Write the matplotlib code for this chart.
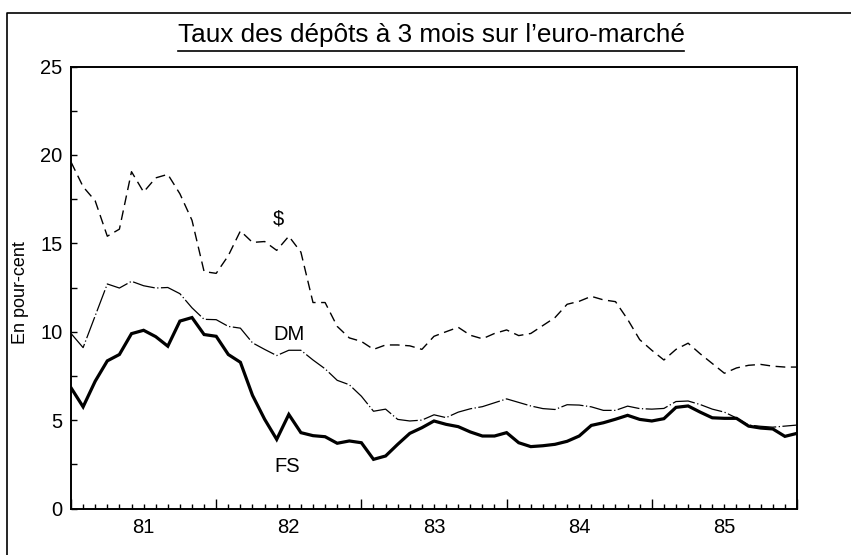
import matplotlib
matplotlib.use("Agg")
import matplotlib.pyplot as plt
from matplotlib.lines import Line2D

plt.rcParams['font.family'] = ['Liberation Sans', 'DejaVu Sans']

# mois depuis janvier 1981 (0 = janv. 81, 60 = janv. 86)
mois = list(range(61))

taux_usd = [19.6, 18.2, 17.4, 15.4, 15.8, 19.05, 17.9, 18.7, 18.9, 17.8,
            16.3, 13.4, 13.3, 14.3, 15.7, 15.05, 15.1, 14.6, 15.4, 14.5,
            11.65, 11.65, 10.3, 9.65, 9.45, 9.0, 9.25, 9.25, 9.2, 9.0,
            9.74, 10.0, 10.25, 9.8, 9.6, 9.9, 10.1, 9.78, 9.9, 10.35,
            10.8, 11.55, 11.72, 12.0, 11.8, 11.7, 10.7, 9.55, 8.95, 8.4,
            9.0, 9.35, 8.75, 8.2, 7.65, 7.95, 8.1, 8.15, 8.05, 8.0, 8.0]

taux_dm = [9.9, 9.1, 10.9, 12.7, 12.47, 12.85, 12.6, 12.47, 12.5, 12.15,
           11.35, 10.7, 10.68, 10.3, 10.2, 9.37, 9.0, 8.65, 8.95, 8.95,
           8.4, 7.9, 7.25, 7.0, 6.35, 5.5, 5.62, 5.04, 4.95, 5.0,
           5.3, 5.14, 5.45, 5.64, 5.76, 5.98, 6.2, 6.0, 5.8, 5.65,
           5.6, 5.87, 5.85, 5.75, 5.55, 5.55, 5.79, 5.65, 5.62, 5.66,
           6.05, 6.08, 5.88, 5.62, 5.45, 5.12, 4.72, 4.65, 4.6, 4.66, 4.72]

taux_fs = [6.83, 5.75, 7.2, 8.35, 8.71, 9.89, 10.08, 9.72, 9.18, 10.6,
           10.8, 9.84, 9.74, 8.71, 8.27, 6.4, 5.05, 3.91, 5.32, 4.29,
           4.12, 4.06, 3.69, 3.82, 3.72, 2.78, 2.97, 3.63, 4.25, 4.57,
           4.95, 4.76, 4.63, 4.33, 4.1, 4.1, 4.29, 3.72, 3.5, 3.55,
           3.63, 3.8, 4.1, 4.7, 4.85, 5.05, 5.27, 5.04, 4.95, 5.08,
           5.72, 5.8, 5.45, 5.13, 5.1, 5.1, 4.66, 4.55, 4.5, 4.08, 4.25]

annees = ['81', '82', '83', '84', '85']
pos_annees = [6, 18, 30, 42, 54]

fig = plt.figure(figsize=(8.51, 5.55), dpi=100)
ax = fig.add_axes([71 / 851, 1 - 508.5 / 555, 726 / 851, 442 / 555])

ax.plot(mois, taux_usd, color='black', lw=1.0, dashes=(7, 4))
ax.plot(mois, taux_dm, color='black', lw=0.9, dashes=(18, 2, 1, 2))
ax.plot(mois, taux_fs, color='black', lw=2.3, solid_joinstyle='miter')

ax.text(17.15, 16.35, '$', fontsize=14.5, ha='center', va='center')
ax.text(18.0, 9.84, 'DM', fontsize=14.5, ha='center', va='center')
ax.text(17.85, 2.39, 'FS', fontsize=14.5, ha='center', va='center')

ax.set_xlim(0, 60)
ax.set_ylim(0, 25)
for s in ax.spines.values():
    s.set_linewidth(1.4)

# axe x : graduations mensuelles, traits plus longs aux changements d'année
ax.set_xticks(range(0, 61, 12))
ax.set_xticks(mois, minor=True)
ax.tick_params(axis='x', which='major', direction='in', length=7.5, width=1.0,
               labelbottom=False)
ax.tick_params(axis='x', which='minor', direction='in', length=3.3, width=1.0)

sec = ax.secondary_xaxis('bottom')
sec.set_xticks(pos_annees, annees)
sec.tick_params(length=0, pad=7, labelsize=14.5)
sec.spines['bottom'].set_visible(False)

ax.set_yticks(range(0, 26, 5))
ax.set_yticks([2.5, 7.5, 12.5, 17.5, 22.5], minor=True)
ax.tick_params(axis='y', which='both', direction='in', length=4.5, width=1.0,
               pad=6, labelsize=14.5)

fig.text(21 / 851, 1 - 293 / 555, 'En pour-cent', rotation=90, fontsize=13,
         ha='center', va='center')

titre = fig.text(431 / 851, 1 - 35 / 555, "Taux des dépôts à 3 mois sur l’euro-marché",
                 fontsize=18.8, ha='center', va='center')

# soulignement du titre et cadre extérieur
fig.canvas.draw()
bb = titre.get_window_extent().transformed(fig.transFigure.inverted())
fig.add_artist(Line2D([bb.x0, bb.x1], [1 - 50.7 / 555] * 2, color='black', lw=1.2,
                      transform=fig.transFigure))
fig.add_artist(Line2D([7.3 / 851, 7.3 / 851, 1.0], [0, 1 - 13.3 / 555, 1 - 13.3 / 555],
                      color='black', lw=1.2, transform=fig.transFigure))

fig.savefig('out.png', dpi=100)
